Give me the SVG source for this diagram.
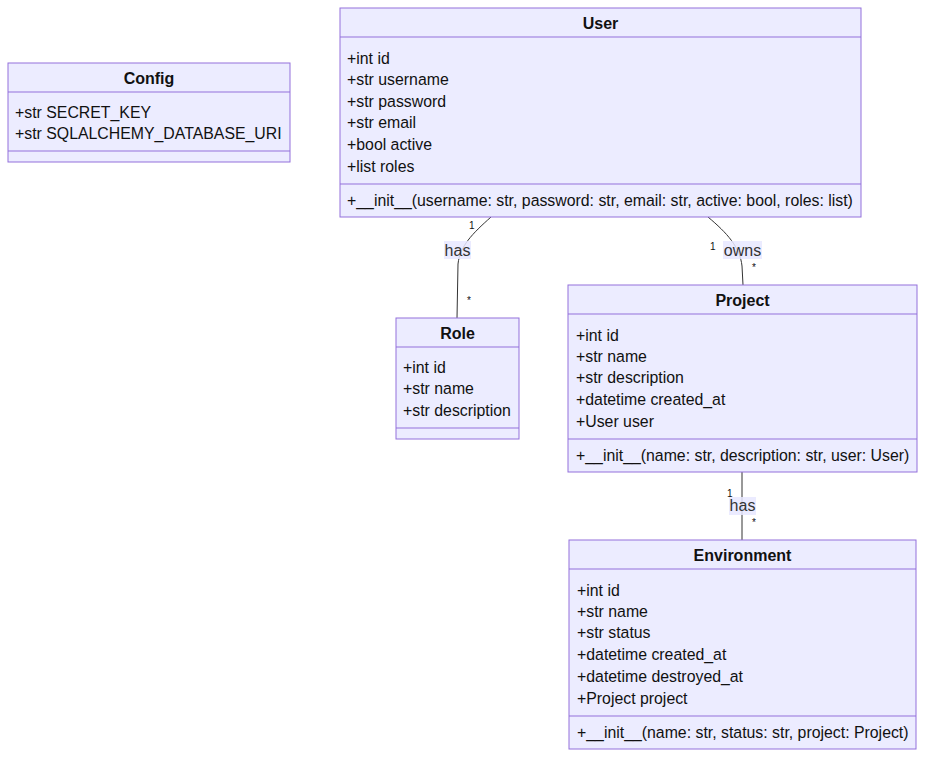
<svg xmlns="http://www.w3.org/2000/svg" width="933" height="763" viewBox="0 0 933 763">
  <style>
    .box { fill: #ECECFF; stroke: #9370DB; stroke-width: 1; }
    .div { stroke: #9370DB; stroke-width: 1; }
    text { font-family: "Liberation Sans", Arial, sans-serif; fill: #111; }
    .title { font-size: 16px; font-weight: bold; text-anchor: middle; }
    .mem { font-size: 15.85px; }
    .edge { fill: none; stroke: #333; stroke-width: 1; }
    .lbl-bg { fill: #E8E8FF; fill-opacity: 0.85; }
    .lbl { font-size: 16px; text-anchor: middle; fill: #333; }
    .card { font-size: 10px; fill: #111; }
  </style>

  <!-- relations -->
  <g id="connectors">
    <path class="edge" d="M491,217 C472,234 460,246 458,264 L457,318"/>
    <path class="edge" d="M708,217 C727,233 740,247 742,266 L743,285"/>
    <path class="edge" d="M742,472 L742,540"/>

    <rect class="lbl-bg" x="444" y="241" width="27" height="18"/>
    <text class="lbl" x="457.5" y="255.5">has</text>
    <text class="card" x="469" y="229">1</text>
    <text class="card" x="467" y="304">*</text>

    <rect class="lbl-bg" x="723" y="241" width="39" height="18"/>
    <text class="lbl" x="742.5" y="255.5">owns</text>
    <text class="card" x="710" y="250">1</text>
    <text class="card" x="752" y="271">*</text>

    <rect class="lbl-bg" x="729" y="497" width="27" height="18"/>
    <text class="lbl" x="742.5" y="511">has</text>
    <text class="card" x="727" y="497">1</text>
    <text class="card" x="752" y="526">*</text>
  </g>

  <g id="Config">
    <rect class="box" x="8" y="63" width="282" height="99"/>
    <line class="div" x1="8" y1="92" x2="290" y2="92"/>
    <line class="div" x1="8" y1="151" x2="290" y2="151"/>
    <text class="title" x="149" y="84">Config</text>
    <text class="mem" x="15" y="118">+str SECRET_KEY</text>
    <text class="mem" x="15" y="139">+str SQLALCHEMY_DATABASE_URI</text>
  </g>

  <g id="User">
    <rect class="box" x="340" y="8" width="521" height="209"/>
    <line class="div" x1="340" y1="37" x2="861" y2="37"/>
    <line class="div" x1="340" y1="184" x2="861" y2="184"/>
    <text class="title" x="600.5" y="29">User</text>
    <text class="mem" x="347" y="63.5">+int id</text>
    <text class="mem" x="347" y="85">+str username</text>
    <text class="mem" x="347" y="106.5">+str password</text>
    <text class="mem" x="347" y="128">+str email</text>
    <text class="mem" x="347" y="149.5">+bool active</text>
    <text class="mem" x="347" y="171.5">+list roles</text>
    <text class="mem" x="347" y="205.5">+__init__(username: str, password: str, email: str, active: bool, roles: list)</text>
  </g>

  <g id="Role">
    <rect class="box" x="396" y="318" width="123" height="121"/>
    <line class="div" x1="396" y1="347" x2="519" y2="347"/>
    <line class="div" x1="396" y1="428" x2="519" y2="428"/>
    <text class="title" x="457.5" y="339">Role</text>
    <text class="mem" x="403" y="373">+int id</text>
    <text class="mem" x="403" y="394">+str name</text>
    <text class="mem" x="403" y="416">+str description</text>
  </g>

  <g id="Project">
    <rect class="box" x="568" y="285" width="349" height="187"/>
    <line class="div" x1="568" y1="314" x2="917" y2="314"/>
    <line class="div" x1="568" y1="439" x2="917" y2="439"/>
    <text class="title" x="742.5" y="306">Project</text>
    <text class="mem" x="576" y="340.5">+int id</text>
    <text class="mem" x="576" y="362">+str name</text>
    <text class="mem" x="576" y="383">+str description</text>
    <text class="mem" x="576" y="405">+datetime created_at</text>
    <text class="mem" x="576" y="427">+User user</text>
    <text class="mem" x="576" y="461">+__init__(name: str, description: str, user: User)</text>
  </g>

  <g id="Environment">
    <rect class="box" x="569" y="540" width="347" height="209"/>
    <line class="div" x1="569" y1="569" x2="916" y2="569"/>
    <line class="div" x1="569" y1="716" x2="916" y2="716"/>
    <text class="title" x="742.5" y="561">Environment</text>
    <text class="mem" x="577" y="595.5">+int id</text>
    <text class="mem" x="577" y="617">+str name</text>
    <text class="mem" x="577" y="638">+str status</text>
    <text class="mem" x="577" y="660">+datetime created_at</text>
    <text class="mem" x="577" y="682">+datetime destroyed_at</text>
    <text class="mem" x="577" y="704">+Project project</text>
    <text class="mem" x="577" y="738">+__init__(name: str, status: str, project: Project)</text>
  </g>
</svg>
